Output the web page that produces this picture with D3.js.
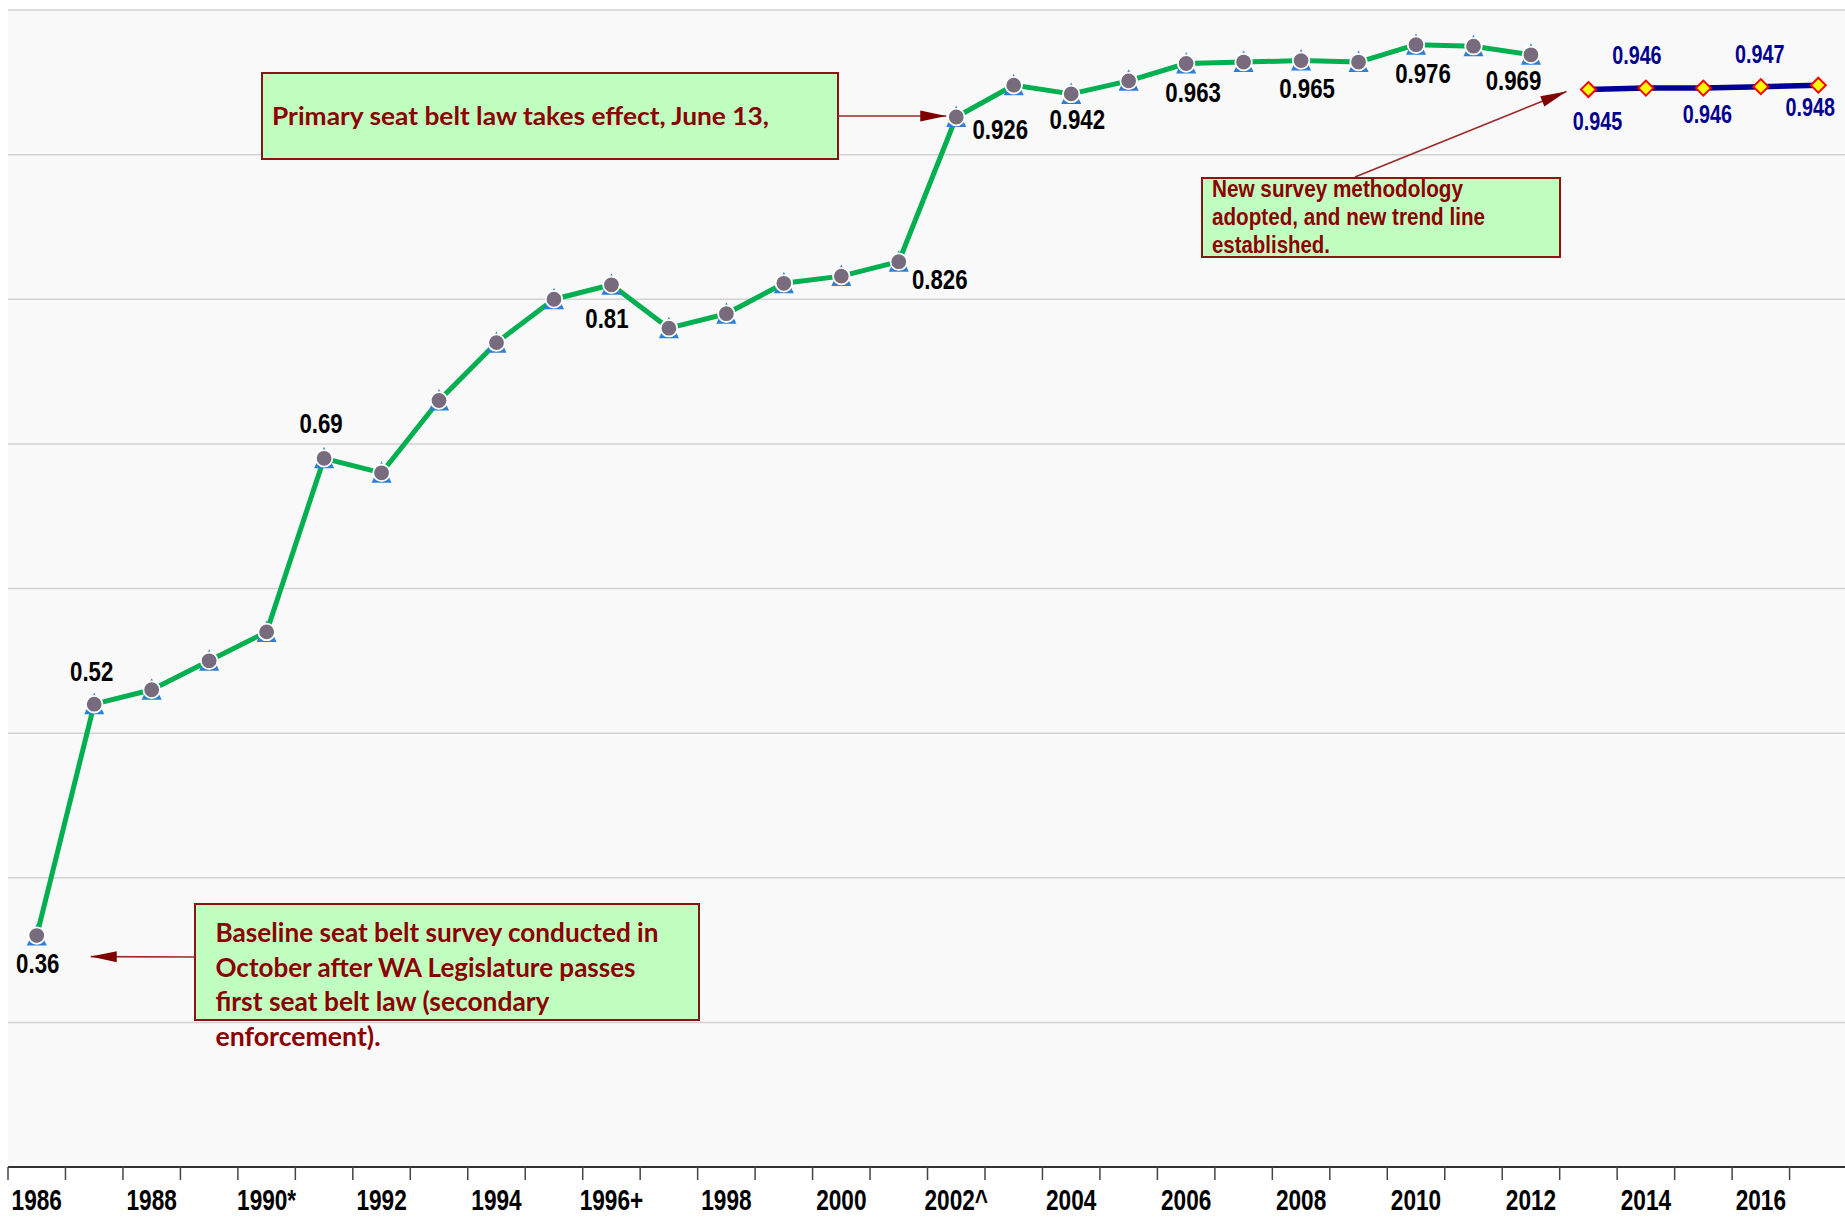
<!DOCTYPE html>
<html><head><meta charset="utf-8">
<script src="https://cdn.jsdelivr.net/npm/d3@7/dist/d3.min.js"></script>
<style>
html,body{margin:0;padding:0;background:#fff;overflow:hidden}
svg{display:block}
.narrow{font-family:"Liberation Sans Narrow","Liberation Sans",Arial,sans-serif;font-weight:700}
.note{font-family:Lato,"Open Sans",sans-serif;font-weight:700}
</style></head><body>
<svg id="chart" width="1845" height="1217"></svg>
<script>
// ---------- data ----------
const years = ["1986","1987","1988","1989","1990","1991","1992","1993","1994","1995","1996","1997","1998","1999","2000","2001","2002","2003","2004","2005","2006","2007","2008","2009","2010","2011","2012","2013","2014","2015","2016","2017"];
const tickLabels = ["1986","","1988","","1990*","","1992","","1994","","1996+","","1998","","2000","","2002^","","2004","","2006","","2008","","2010","","2012","","2014","","2016",""];
const trendYears = years.slice(0, 27);
const trendValues = [0.36,0.52,0.53,0.55,0.57,0.69,0.68,0.73,0.77,0.80,0.81,0.78,0.79,0.811,0.816,0.826,0.926,0.948,0.942,0.951,0.963,0.964,0.965,0.964,0.976,0.975,0.969];
const newYears = ["2013","2014","2015","2016","2017"];
const newValues = [0.945,0.946,0.946,0.947,0.948];
const trendLabelYears = ["1986","1987","1991","1996","2001","2002","2004","2006","2008","2010","2012"];
const newLabelYears = ["2013","2014","2015","2016","2017"];
const yGridValues = [0.2,0.3,0.4,0.5,0.6,0.7,0.8,0.9,1.0];
const noteBaseline = ["Baseline seat belt survey conducted in","October after WA Legislature passes","first seat belt law (secondary","enforcement)."];
const notePrimary = ["Primary seat belt law takes effect, June 13,"];
const noteNewSurvey = ["New survey methodology","adopted, and new trend line","established."];

// ---------- layout ----------
const svg = d3.select("#chart");
const plotLeft = 8, plotTop = 10, plotBottom = 1167, band = 57.47;
const x = d3.scaleBand().domain(years).range([plotLeft, plotLeft + band * years.length]).paddingInner(0).paddingOuter(0);
const y = d3.scaleLinear().domain([0.2, 1.0]).range([plotBottom, plotTop]);
const cx = yr => x(yr) + x.bandwidth() / 2;

// condense a bold Arial-metric font to mimic Arial Narrow Bold
function condense(k) {
  return sel => sel.each(function () {
    const w = this.getComputedTextLength();
    if (w > 0) d3.select(this).attr("textLength", w * k).attr("lengthAdjust", "spacingAndGlyphs");
  });
}

svg.append("rect").attr("x", plotLeft).attr("y", plotTop).attr("width", 1845 - plotLeft).attr("height", plotBottom - plotTop).attr("fill", "#f9f9f9");

// grid
svg.append("g").selectAll("line").data(yGridValues.filter(v => v > 0.2)).join("line")
  .attr("x1", plotLeft).attr("x2", 1845).attr("y1", d => y(d)).attr("y2", d => y(d))
  .attr("stroke", "#d2d2d2").attr("stroke-width", 1.5);

// x axis
const xAxis = d3.axisBottom(x).tickSize(0).tickFormat((d, i) => tickLabels[i]);
const gx = svg.append("g").attr("transform", `translate(0,${plotBottom})`).call(xAxis);
gx.select(".domain").remove();
gx.selectAll("text").attr("class", "narrow").attr("font-size", 29).attr("fill", "#000").attr("y", 43).attr("dy", 0).call(condense(0.78));
svg.append("line").attr("x1", plotLeft).attr("x2", 1845).attr("y1", plotBottom).attr("y2", plotBottom).attr("stroke", "#333").attr("stroke-width", 2);
svg.append("g").selectAll("line").data(years.concat(["end"])).join("line")
  .attr("x1", (d, i) => plotLeft + i * x.step()).attr("x2", (d, i) => plotLeft + i * x.step())
  .attr("y1", plotBottom).attr("y2", plotBottom + 13).attr("stroke", "#444").attr("stroke-width", 1.5);

// trend line
const trend = trendYears.map((yr, i) => ({yr, v: trendValues[i]}));
const fresh = newYears.map((yr, i) => ({yr, v: newValues[i]}));
const line = d3.line().x(d => cx(d.yr)).y(d => y(d.v));
svg.append("path").datum(trend).attr("d", line).attr("fill", "none").attr("stroke", "#00b050").attr("stroke-width", 5).attr("stroke-linejoin", "round");
const mk = svg.append("g").selectAll("g").data(trend).join("g").attr("transform", d => `translate(${cx(d.yr)},${y(d.v)})`);
mk.append("path").attr("d", "M0,-11.5L10,10L-10,10Z").attr("fill", "#2d7fd6");
mk.append("circle").attr("r", 8.3).attr("fill", "#776b7d").attr("stroke", "#fff").attr("stroke-width", 1.8);

svg.append("path").datum(fresh).attr("d", line).attr("fill", "none").attr("stroke", "#000095").attr("stroke-width", 5.5);
svg.append("g").selectAll("path").data(fresh).join("path")
  .attr("transform", d => `translate(${cx(d.yr)},${y(d.v)})`)
  .attr("d", "M0,-7.5L7.5,0L0,7.5L-7.5,0Z").attr("fill", "#ffff00").attr("stroke", "#ff0000").attr("stroke-width", 2);

// value labels (offsets from point: dx, baseline dy)
const trendLabelPos = {"1986":[1,37],"1987":[-2.5,-23],"1991":[-3,-25],"1996":[-4.5,43],"2001":[41,27],"2002":[44,22],"2004":[6,35],"2006":[7,38],"2008":[6,37],"2010":[7,38],"2012":[-17.5,35]};
const newLabelPos = {"2013":[9,40.5],"2014":[-9,-24],"2015":[4,35],"2016":[-1,-24],"2017":[-8,31]};
svg.append("g").selectAll("text").data(trend.filter(d => trendLabelYears.includes(d.yr))).join("text")
  .attr("class", "narrow").attr("font-size", 28.5).attr("fill", "#000").attr("text-anchor", "middle")
  .attr("x", d => cx(d.yr) + trendLabelPos[d.yr][0]).attr("y", d => y(d.v) + trendLabelPos[d.yr][1])
  .text(d => String(d.v)).call(condense(0.78));
svg.append("g").selectAll("text").data(fresh.filter(d => newLabelYears.includes(d.yr))).join("text")
  .attr("class", "narrow").attr("font-size", 25).attr("fill", "#000090").attr("text-anchor", "middle")
  .attr("x", d => cx(d.yr) + newLabelPos[d.yr][0]).attr("y", d => y(d.v) + newLabelPos[d.yr][1])
  .text(d => d.v.toFixed(3)).call(condense(0.79));

// annotations
function arrow(x1, y1, x2, y2) {
  svg.append("line").attr("x1", x1).attr("y1", y1).attr("x2", x2).attr("y2", y2).attr("stroke", "#9b2a2a").attr("stroke-width", 1.6);
  const a = Math.atan2(y2 - y1, x2 - x1), L = 26, W = 5.5;
  const bx = x2 - L * Math.cos(a), by = y2 - L * Math.sin(a);
  const px = -Math.sin(a) * W, py = Math.cos(a) * W;
  svg.append("path").attr("d", `M${x2},${y2}L${bx + px},${by + py}L${bx - px},${by - py}Z`).attr("fill", "#800000");
}
function box(x0, y0, w, h, lines, cls, size, tx, ty, lh, widths) {
  svg.append("rect").attr("x", x0).attr("y", y0).attr("width", w).attr("height", h).attr("fill", "#c1ffc1").attr("stroke", "#8b1414").attr("stroke-width", 2);
  lines.forEach((t, i) => {
    const el = svg.append("text").attr("class", cls).attr("font-size", size).attr("fill", "#8b0000")
      .attr("x", tx).attr("y", ty + i * lh).text(t);
    if (widths) el.attr("textLength", widths[i]).attr("lengthAdjust", "spacingAndGlyphs");
  });
}
// primary law
box(262, 73, 576, 86, notePrimary, "note", 25, 272, 125, 0, [497]);
arrow(838, 116, cx("2002") - 10, y(0.926) - 1);
// new survey
arrow(1355, 177, cx("2013") - 22, y(0.945) + 2);
box(1202, 178, 358, 79, noteNewSurvey, "narrow", 24, 1212, 197, 28, [251, 273, 118]);
// baseline
box(195, 904, 504, 116, noteBaseline, "note", 26, 215.5, 942, 34.7, [443, 420, 334, 165]);
arrow(195, 957, cx("1986") + 54, y(0.36) + 21);
</script>
</body></html>
